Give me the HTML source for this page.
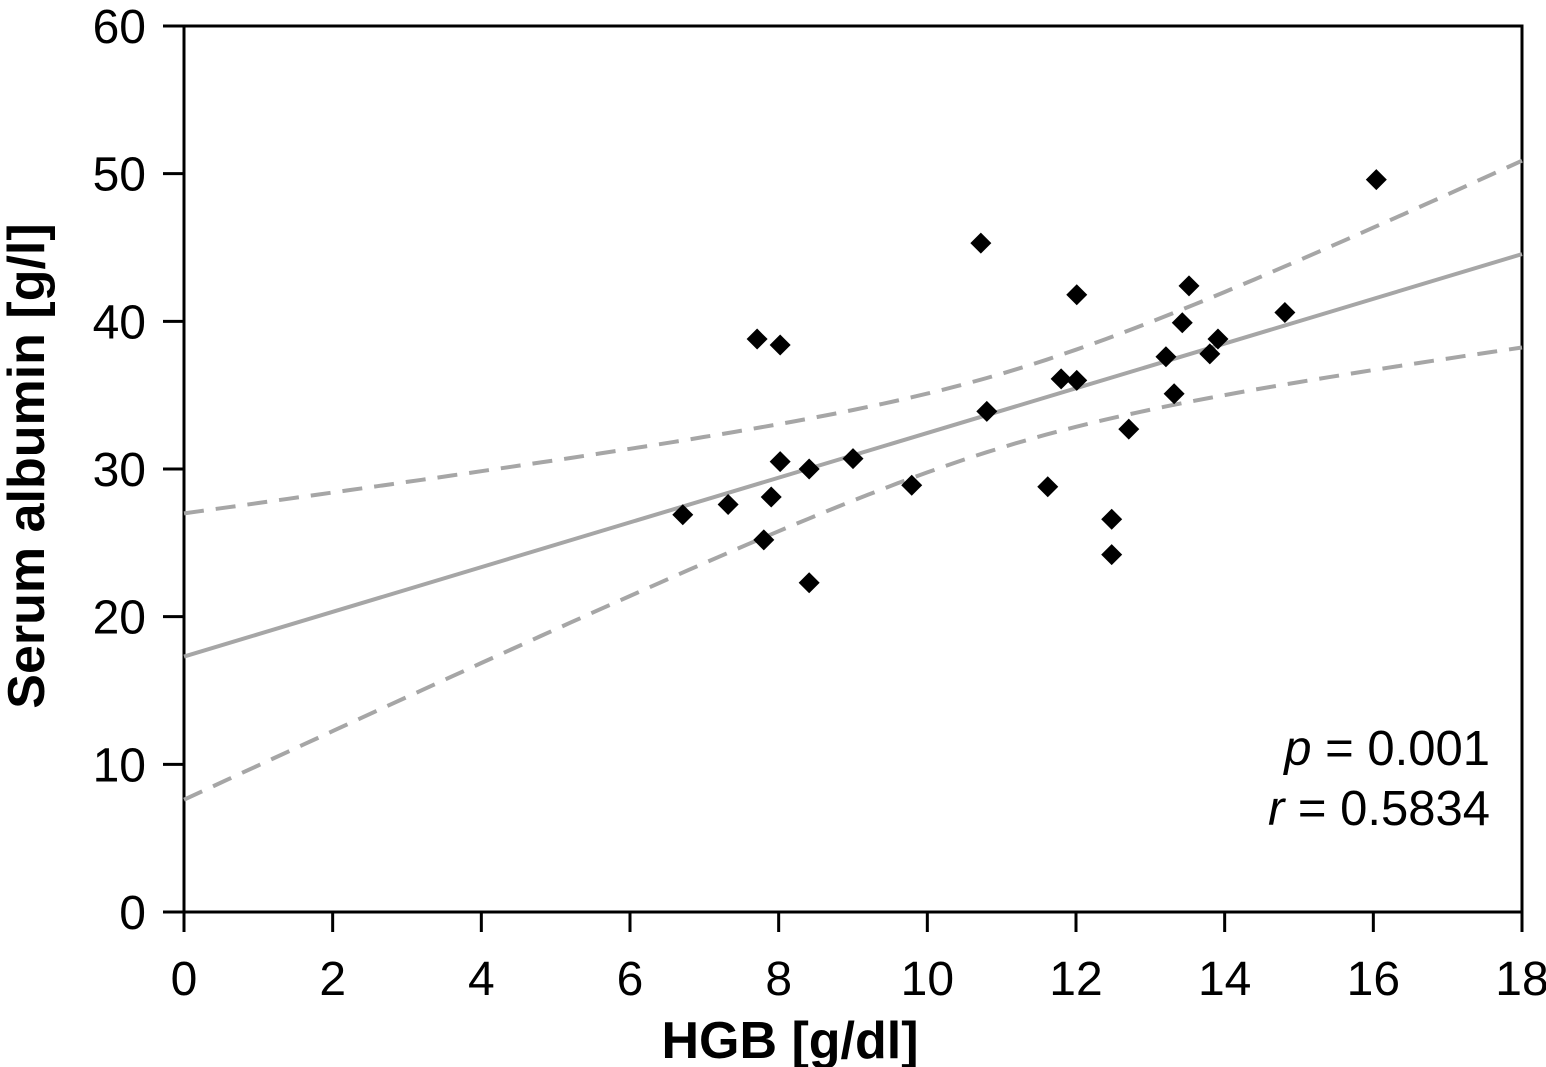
<!DOCTYPE html>
<html><head><meta charset="utf-8">
<style>
html,body{margin:0;padding:0;background:#fff;}
svg{display:block;font-family:"Liberation Sans",sans-serif;}
</style></head>
<body>
<svg id="chart" width="1546" height="1067" viewBox="0 0 1546 1067" xmlns="http://www.w3.org/2000/svg"></svg>
<script>
const hgbValues = [6.71,7.32,7.71,8.02,8.02,7.9,7.8,8.41,8.41,9.0,9.79,10.72,10.8,11.62,11.8,12.01,12.01,12.48,12.48,12.71,13.21,13.32,13.43,13.52,13.8,13.91,14.81,16.04];
const albuminValues = [26.9,27.6,38.8,38.4,30.5,28.1,25.2,30.0,22.3,30.7,28.9,45.3,33.9,28.8,36.1,36.0,41.8,26.6,24.2,32.7,37.6,35.1,39.9,42.4,37.8,38.8,40.6,49.6];
const xTicks = [0,2,4,6,8,10,12,14,16,18];
const yTicks = [0,10,20,30,40,50,60];
const fitLine = [17.3, 1.514];          // intercept, slope
const bandParams = [6.25, 0.711, 11.11]; // a, b, center: halfwidth = sqrt(a + b(x-c)^2)

const svg = document.getElementById('chart');
const NS = 'http://www.w3.org/2000/svg';
const X0=184, X1=1522, Y0=912, Y1=26;
const sx = v => X0 + (v-0)/(18-0)*(X1-X0);
const sy = v => Y0 - (v-0)/(60-0)*(Y0-Y1);
function mk(tag, attrs, parent){const e=document.createElementNS(NS,tag);for(const k in attrs)e.setAttribute(k,attrs[k]);(parent||svg).appendChild(e);return e;}

const frame = mk('rect',{x:X0,y:Y1,width:X1-X0,height:Y0-Y1,fill:'none',stroke:'#000','stroke-width':3});



xTicks.forEach(t=>{
  const l = mk('line',{x1:sx(t),x2:sx(t),y1:Y0,y2:Y0+20,stroke:'#000','stroke-width':3});
  
  
  const tx = mk('text',{x:sx(t),y:995,'text-anchor':'middle','font-size':48,fill:'#000'});
  tx.textContent = t;
  
  
});
yTicks.forEach(t=>{
  const l = mk('line',{x1:X0-21,x2:X0,y1:sy(t),y2:sy(t),stroke:'#000','stroke-width':3});
  
  
  const tx = mk('text',{x:146,y:sy(t)+17,'text-anchor':'end','font-size':48,fill:'#000'});
  tx.textContent = t;
  
  
});

const fit = x => fitLine[0] + fitLine[1]*x;
const reg = mk('line',{x1:sx(0),y1:sy(fit(0)),x2:sx(18),y2:sy(fit(18)),stroke:'#a6a6a6','stroke-width':4});



const hw = x => Math.sqrt(bandParams[0] + bandParams[1]*(x-bandParams[2])**2);
[1,-1].forEach(sgn=>{
  let d='';
  for(let i=0;i<=90;i++){const x=18*i/90;const y=fit(x)+sgn*hw(x);d+=(i?'L':'M')+sx(x).toFixed(1)+','+sy(y).toFixed(1);}
  const p = mk('path',{d:d,fill:'none',stroke:'#a6a6a6','stroke-width':4,'stroke-dasharray':'20,12'});
  
  
});

hgbValues.forEach((v,i)=>{
  const cx=sx(v), cy=sy(albuminValues[i]), r=10.5;
  const p = mk('polygon',{points:`${cx},${cy-r} ${cx+r},${cy} ${cx},${cy+r} ${cx-r},${cy}`,fill:'#000'});
  
  
});

const t1 = mk('text',{x:1490,y:765,'text-anchor':'end','font-size':49,fill:'#000'});
t1.innerHTML = '<tspan font-style="italic">p</tspan> = 0.001';


const t2 = mk('text',{x:1490,y:825,'text-anchor':'end','font-size':49,fill:'#000'});
t2.innerHTML = '<tspan font-style="italic">r</tspan> = 0.5834';



const xt = mk('text',{x:790,y:1058,'text-anchor':'middle','font-size':52,'font-weight':'bold',fill:'#000'});
xt.textContent = 'HGB [g/dl]';


const yt = mk('text',{x:0,y:0,'text-anchor':'middle','font-size':52,'font-weight':'bold',fill:'#000',transform:'translate(44,466) rotate(-90)'});
yt.textContent = 'Serum albumin [g/l]';


</script>
</body></html>
